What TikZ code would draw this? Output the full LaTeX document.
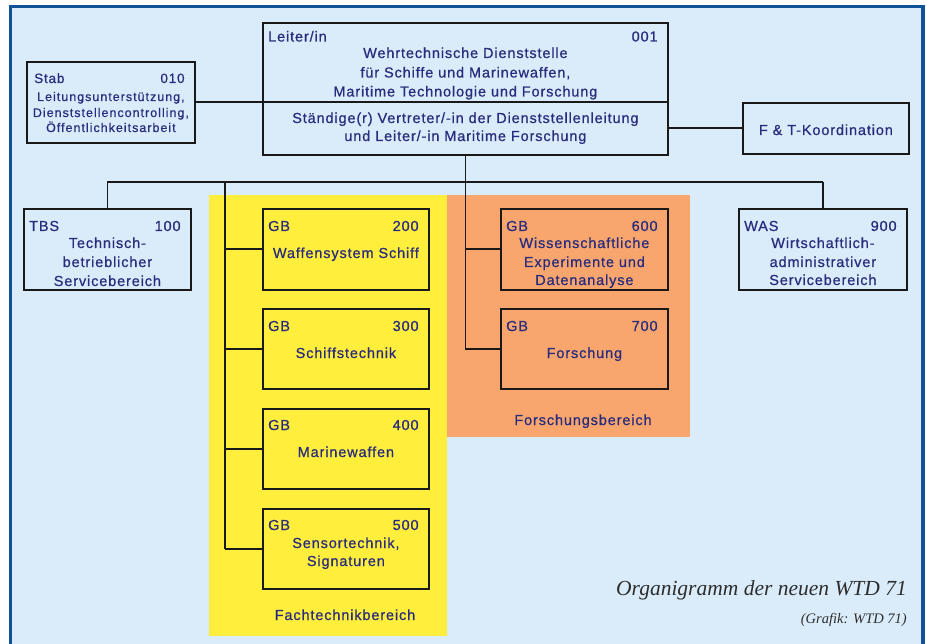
\documentclass[tikz,border=0pt]{standalone}
\usepackage{fontspec}
\setmainfont{Liberation Sans}
\newfontfamily\boxfont[LetterSpace=6,FakeBold=0.7]{Liberation Sans}
\newfontfamily\stabfont[LetterSpace=8,FakeBold=0.7]{Liberation Sans}
\newfontfamily\capfont{Liberation Serif}
\usetikzlibrary{calc}
\definecolor{bgblue}{RGB}{218,236,250}
\definecolor{frameblue}{RGB}{16,82,152}
\definecolor{fachyellow}{RGB}{255,238,60}
\definecolor{forschorange}{RGB}{248,166,110}
\definecolor{txtblue}{RGB}{42,44,125}
\definecolor{linecol}{RGB}{25,25,25}
\definecolor{captxt}{RGB}{45,45,45}
\tikzset{
  orgbox/.style={draw=linecol, line width=1.8pt, inner sep=0pt, anchor=north west},
  conn/.style={draw=linecol, line width=1.8pt},
  bt/.style={inner sep=0pt, text=txtblue, font=\boxfont\fontsize{14.5}{17}\selectfont},
  st/.style={inner sep=0pt, text=txtblue, font=\stabfont\fontsize{12.5}{15}\selectfont},
  sh/.style={inner sep=0pt, text=txtblue, font=\boxfont\fontsize{13.5}{16}\selectfont},
  ct/.style={inner sep=0pt, text=captxt, font=\capfont\itshape\fontsize{21.5}{24}\selectfont},
  cts/.style={inner sep=0pt, text=captxt, font=\capfont\itshape\fontsize{14.5}{17}\selectfont},
}
\newcommand\boxhead[4]{%
  \node[bt, anchor=base west] (#1-l) at ($(#1.north west)+(6,#4)$) {#2};
  \node[bt, anchor=base east] (#1-r) at ($(#1.north east)+(-11,#4)$) {#3};}
\newcommand\boxline[5]{%
  \node[#5, anchor=base] (#1) at ($(#2.north)+(0,#3)$) {#4};}
\begin{document}
\begin{tikzpicture}[x=1pt,y=-1pt]
\useasboundingbox (0,0) rectangle (926,644);
\fill[white] (0,0) rectangle (926,644);
\fill[bgblue] (10,6) rectangle (923,644);
% areas
\fill[fachyellow] (209,195) rectangle (447,636);
\fill[forschorange] (447,195) rectangle (690,437);
% boxes
\node[orgbox, minimum width=168pt, minimum height=81pt] (stab) at (26,61) {};
\node[orgbox, minimum width=405pt, minimum height=132pt] (leiter) at (262,22) {};
\node[orgbox, minimum width=166pt, minimum height=51pt] (ft) at (742,102) {};
\node[orgbox, minimum width=167pt, minimum height=81pt] (tbs) at (23,208) {};
\node[orgbox, minimum width=166pt, minimum height=81pt] (gb200) at (262,208) {};
\node[orgbox, minimum width=166pt, minimum height=80pt] (gb300) at (262,308) {};
\node[orgbox, minimum width=166pt, minimum height=80pt] (gb400) at (262,408) {};
\node[orgbox, minimum width=166pt, minimum height=80pt] (gb500) at (262,508) {};
\node[orgbox, minimum width=167pt, minimum height=81pt] (gb600) at (500,208) {};
\node[orgbox, minimum width=167pt, minimum height=80pt] (gb700) at (500,308) {};
\node[orgbox, minimum width=168pt, minimum height=81pt] (was) at (738,208) {};
% connectors
\coordinate (bus) at (0,182);
\coordinate (fachx) at (225,0);
\draw[conn] (stab.east) -- (stab.east -| leiter.west);
\draw[conn] (leiter.west |- stab.east) -- (leiter.east |- stab.east);
\draw[conn] (ft.west -| leiter.east) -- (ft.west);
\draw[conn] (leiter.south) -- (leiter.south |- gb700.west);
\draw[conn] (tbs.north |- bus) -- (was.north |- bus);
\draw[conn] (tbs.north |- bus) -- (tbs.north);
\draw[conn] (was.north |- bus) -- (was.north);
\draw[conn] (fachx |- bus) -- (fachx |- gb500.west);
\foreach \b in {gb200,gb300,gb400,gb500}
  \draw[conn] (fachx |- \b.west) -- (\b.west);
\draw[conn] (leiter.south |- gb600.west) -- (gb600.west);
\draw[conn] (leiter.south |- gb700.west) -- (gb700.west);
% Stab text
\node[sh, anchor=base west] (stab-l) at ($(stab.north west)+(8,22)$) {Stab};
\node[sh, anchor=base east] (stab-r) at ($(stab.north east)+(-11,22)$) {010};
\boxline{stab-a}{stab}{40}{Leitungsunterstützung,}{st}
\boxline{stab-b}{stab}{56}{Dienststellencontrolling,}{st}
\boxline{stab-c}{stab}{71}{Öffentlichkeitsarbeit}{st}
% Leiter text
\boxhead{leiter}{Leiter/in}{001}{19.5}
\boxline{leiter-a}{leiter}{36}{Wehrtechnische Dienststelle}{bt}
\boxline{leiter-b}{leiter}{55.5}{für Schiffe und Marinewaffen,}{bt}
\boxline{leiter-c}{leiter}{74.5}{Maritime Technologie und Forschung}{bt}
\boxline{leiter-d}{leiter}{101}{Ständige(r) Vertreter/-in der Dienststellenleitung}{bt}
\boxline{leiter-e}{leiter}{119}{und Leiter/-in Maritime Forschung}{bt}
% F&T
\boxline{ft-a}{ft}{33}{F \& T-Koordination}{bt}
% TBS
\boxhead{tbs}{TBS}{100}{23}
\boxline{tbs-a}{tbs}{40}{Technisch-}{bt}
\boxline{tbs-b}{tbs}{59}{betrieblicher}{bt}
\boxline{tbs-c}{tbs}{78}{Servicebereich}{bt}
% GB 200-500
\boxhead{gb200}{GB}{200}{23}
\boxline{gb200-a}{gb200}{50}{Waffensystem Schiff}{bt}
\boxhead{gb300}{GB}{300}{23}
\boxline{gb300-a}{gb300}{50}{Schiffstechnik}{bt}
\boxhead{gb400}{GB}{400}{22}
\boxline{gb400-a}{gb400}{49}{Marinewaffen}{bt}
\boxhead{gb500}{GB}{500}{22}
\boxline{gb500-a}{gb500}{40}{Sensortechnik,}{bt}
\boxline{gb500-b}{gb500}{58}{Signaturen}{bt}
% GB 600-700
\boxhead{gb600}{GB}{600}{23}
\boxline{gb600-a}{gb600}{40}{Wissenschaftliche}{bt}
\boxline{gb600-b}{gb600}{59}{Experimente und}{bt}
\boxline{gb600-c}{gb600}{77}{Datenanalyse}{bt}
\boxhead{gb700}{GB}{700}{23}
\boxline{gb700-a}{gb700}{50}{Forschung}{bt}
% WAS
\boxhead{was}{WAS}{900}{23}
\boxline{was-a}{was}{40}{Wirtschaftlich-}{bt}
\boxline{was-b}{was}{59}{administrativer}{bt}
\boxline{was-c}{was}{77}{Servicebereich}{bt}
% area labels
\node[bt, anchor=base] (fachlabel) at (345,620) {Fachtechnikbereich};
\node[bt, anchor=base] (forschlabel) at (583,425) {Forschungsbereich};
% caption
\node[ct, anchor=base east] (cap1) at (907,595) {Organigramm der neuen WTD 71};
\node[cts, anchor=base east] (cap2) at (907,623) {(Grafik: WTD 71)};
% frame
\draw[frameblue, line width=3.5pt] (10.5,644) -- (10.5,6.5) -- (923,6.5) -- (923,644);
\end{tikzpicture}
\end{document}
